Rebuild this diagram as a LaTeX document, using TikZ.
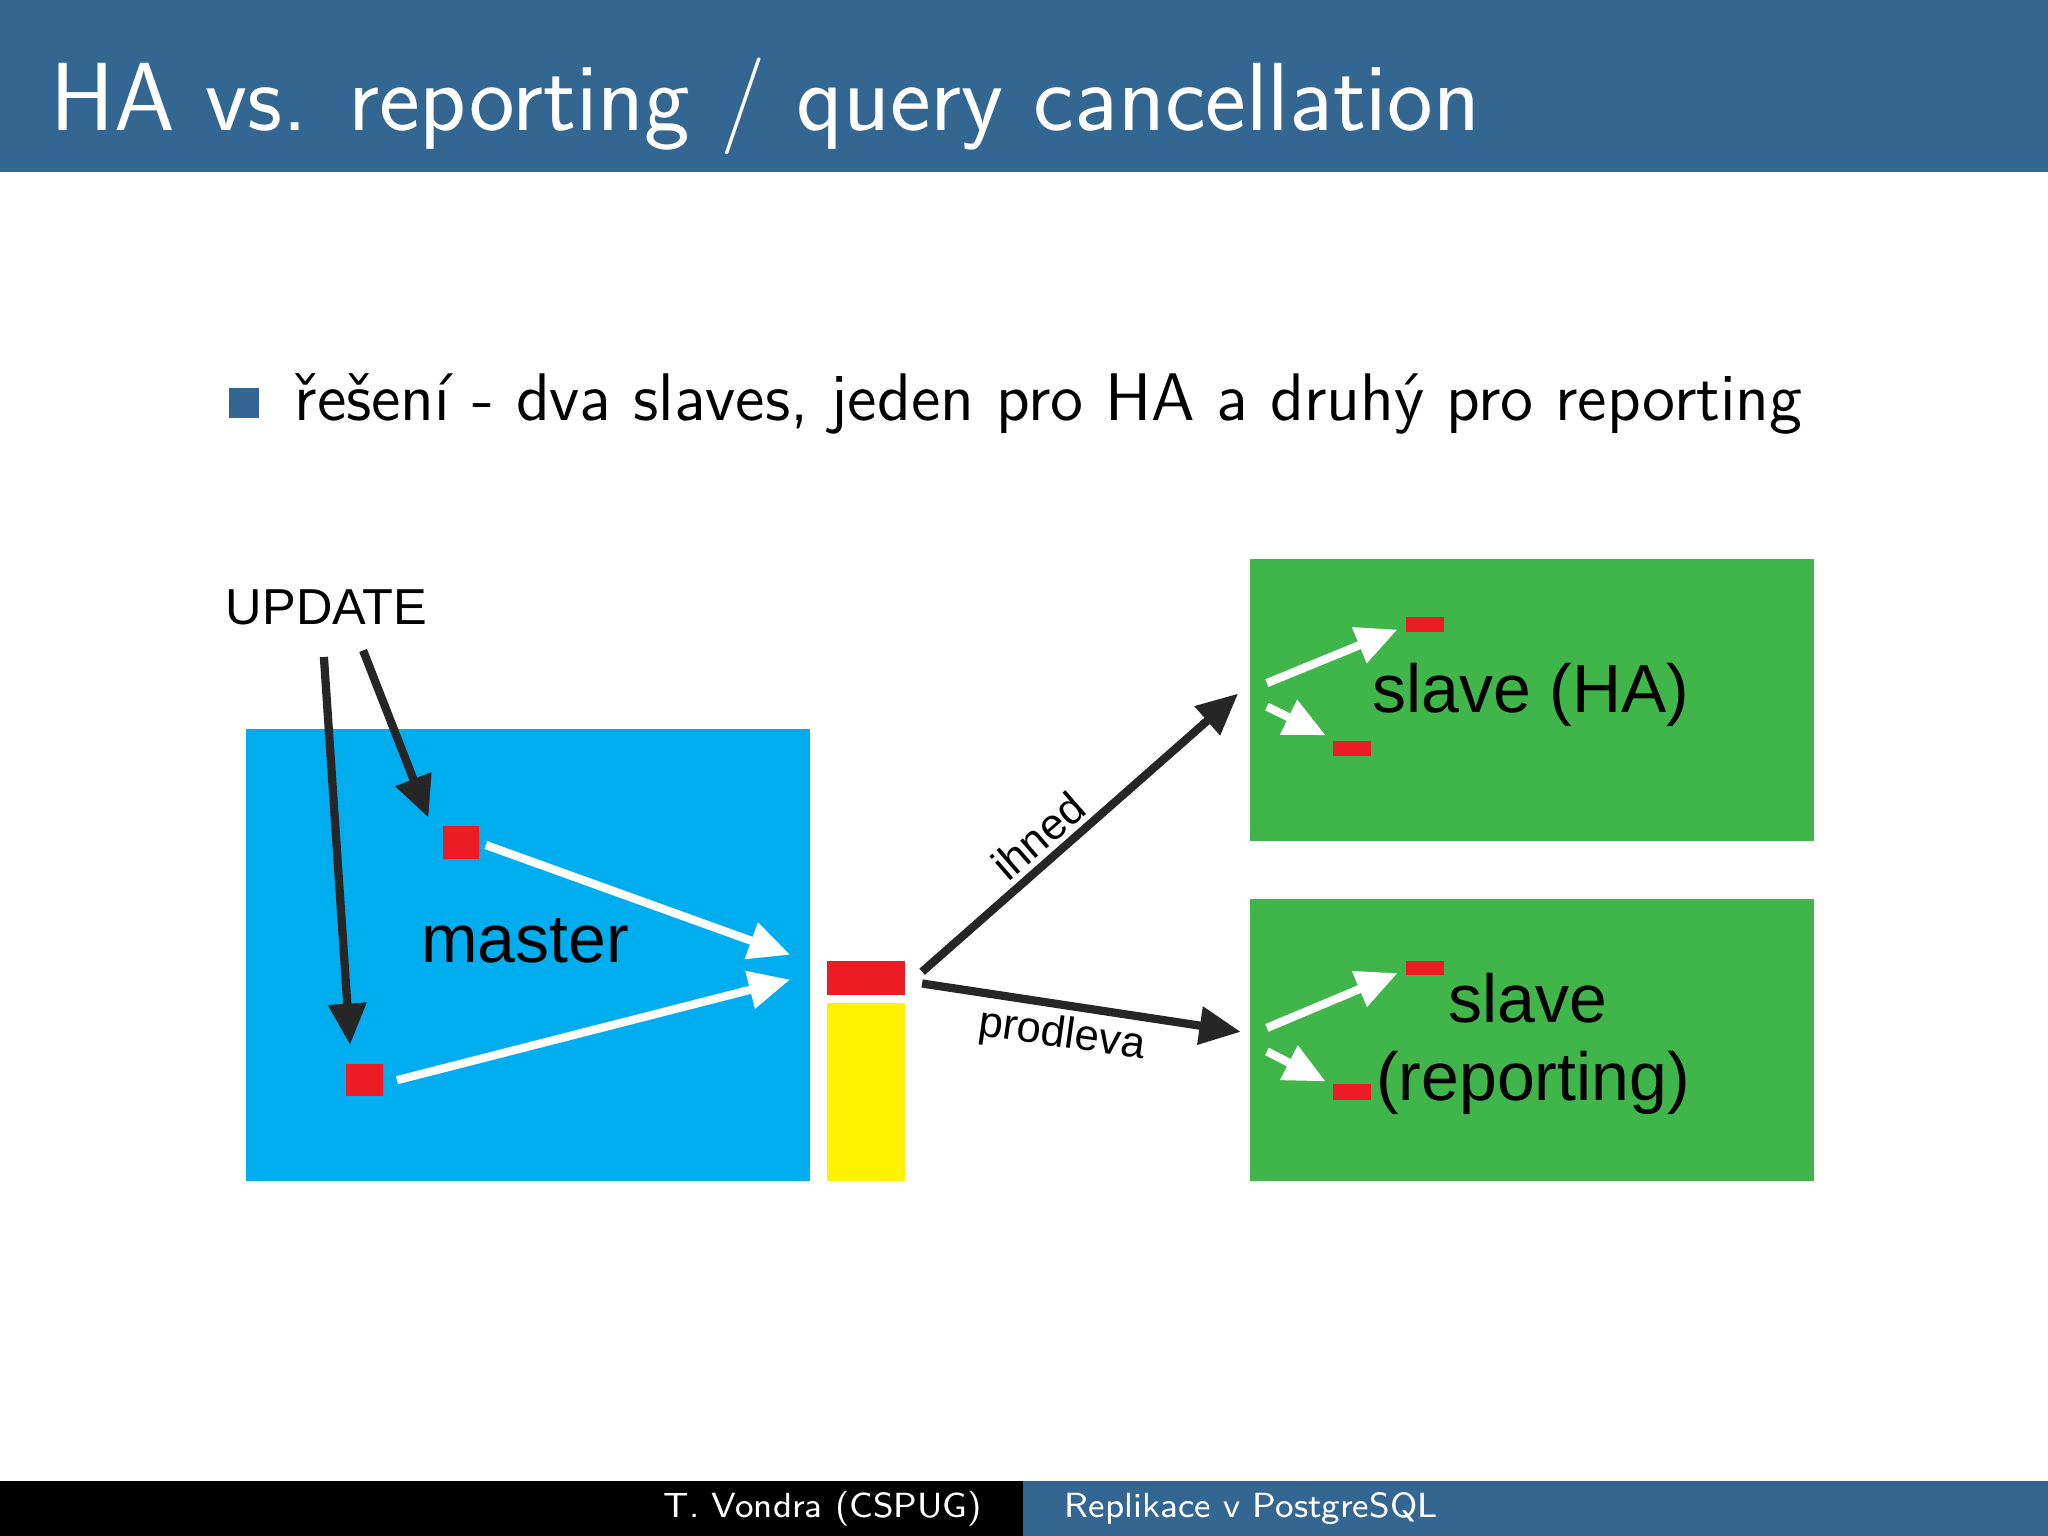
\documentclass[tikz,border=0pt]{standalone}
\usepackage{fontspec}
\newfontfamily\arial{Liberation Sans}
\usetikzlibrary{arrows.meta}
\definecolor{bbar}{RGB}{51,102,145}
\definecolor{mblue}{RGB}{0,174,239}
\definecolor{mred}{RGB}{237,28,36}
\definecolor{myel}{RGB}{255,242,0}
\definecolor{mgreen}{RGB}{64,181,74}
\begin{document}
\begin{tikzpicture}[x=0.01cm,y=-0.01cm,
  box/.style={inner sep=0,outer sep=0},
  blk/.style={draw=black!85,line width=1.8pt,-{Triangle[length=9pt,width=8pt]}},
  wht/.style={draw=white,line width=1.8pt,-{Triangle[length=9pt,width=8pt]}},
  lab/.style={font=\arial,inner sep=0}]
\useasboundingbox (0,0) rectangle (1568,1176);
\fill[bbar] (0,0) rectangle (1568,132);
\node[anchor=base west,text=white,inner sep=0,font=\sffamily\fontsize{21.1}{25}\selectfont] (title) at (38,100) {HA vs. reporting / query cancellation};
\fill[bbar] (175,297) rectangle (198,320);
\node[anchor=base west,inner sep=0,font=\sffamily\fontsize{14.65}{17}\selectfont] (bul) at (225,322) {řešení - dva slaves, jeden pro HA a druhý pro reporting};
% footer
\fill[black] (0,1134) rectangle (783,1176);
\fill[bbar] (783,1134) rectangle (1568,1176);
\node[text=white,font=\sffamily\fontsize{7.6}{9}\selectfont,inner sep=0] (f1) at (630,1155) {T. Vondra (CSPUG)};
\node[text=white,font=\sffamily\fontsize{7.6}{9}\selectfont,inner sep=0] (f2) at (958,1155) {Replikace v PostgreSQL};
% shapes
\fill[mblue] (188,558) rectangle (620,904);
\fill[mgreen] (957,428) rectangle (1389,644);
\fill[mgreen] (957,688) rectangle (1389,904);
\node[box,fill=mred,minimum width=0.28cm,minimum height=0.25cm] (r1) at (353,645) {};
\node[box,fill=mred,minimum width=0.28cm,minimum height=0.25cm] (r2) at (279,827) {};
\node[box,fill=mred,minimum width=0.60cm,minimum height=0.26cm] (rb) at (663,749) {};
\fill[myel] (633,768) rectangle (693,904);
\node[box,fill=mred,minimum width=0.29cm,minimum height=0.11cm] (h1) at (1091,478) {};
\node[box,fill=mred,minimum width=0.29cm,minimum height=0.12cm] (h2) at (1035,573) {};
\node[box,fill=mred,minimum width=0.29cm,minimum height=0.11cm] (p1) at (1091,741) {};
\node[box,fill=mred,minimum width=0.29cm,minimum height=0.12cm] (p2) at (1035,836) {};
% texts
\node[lab,font=\arial\fontsize{11}{13}\selectfont] (upd) at (250,465) {UPDATE};
\node[lab,font=\arial\fontsize{14.8}{17}\selectfont] (master) at (402,720) {master};
\node[lab,anchor=west,font=\arial\fontsize{14.8}{17}\selectfont] (sha) at (1050,532) {slave (HA)};
\node[lab,font=\arial\fontsize{14.8}{17}\selectfont] (sl) at (1170,764) {slave};
\node[lab,anchor=west,font=\arial\fontsize{14.8}{17}\selectfont] (srep) at (1053,829) {(reporting)};
\node[lab,rotate=41,font=\arial\fontsize{9.5}{11}\selectfont] (ihned) at (795,640) {ihned};
\node[lab,rotate=-8,font=\arial\fontsize{9.5}{11}\selectfont] (prod) at (813,793) {prodleva};
% coordinates
\coordinate (u1) at (248,503); \coordinate (u2) at (278,498);
\coordinate (a1) at (706,744); \coordinate (a2) at (706,753);
\coordinate (s1) at (948,531); \coordinate (s2) at (950,790);
\coordinate (m1) at (605,731); \coordinate (m2) at (605,750);
\coordinate (w1) at (970,523); \coordinate (w2) at (970,541);
\coordinate (w3) at (970,787); \coordinate (w4) at (970,805);
\draw[blk] (u1) -- (268,800);
\draw[blk] (u2) -- (328,626);
\draw[blk] (a1) -- (s1);
\draw[blk] (a2) -- (s2);
\draw[wht] (372,647) -- (m1);
\draw[wht] (304,827) -- (m2);
\draw[wht] (w1) -- (1070,482);
\draw[wht] (w2) -- (1015,563);
\draw[wht] (w3) -- (1070,745);
\draw[wht] (w4) -- (1015,828);
\end{tikzpicture}
\end{document}
